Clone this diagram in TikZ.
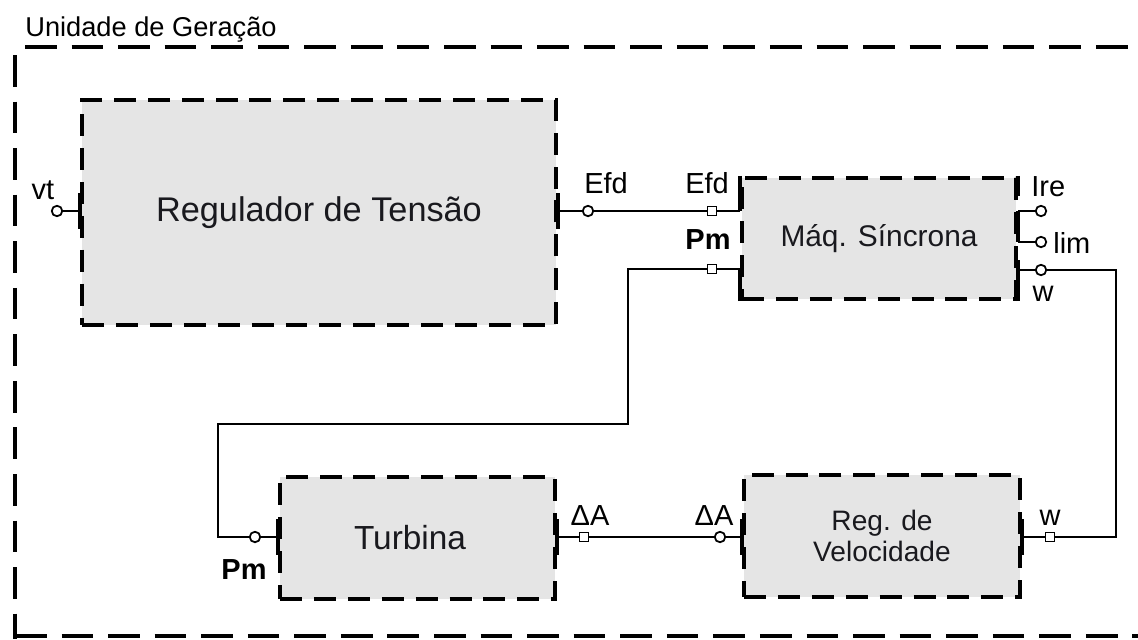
\documentclass[tikz,border=0pt]{standalone}
\usepackage{fontspec}
\setmainfont{Liberation Sans}
\definecolor{boxfill}{RGB}{229,229,229}
\definecolor{txt}{RGB}{25,25,30}
\begin{document}
\begin{tikzpicture}[x=0.02cm,y=-0.02cm,
  blk/.style={draw, fill=boxfill, line width=2.3pt, dash pattern=on 12.5pt off 6.8pt, inner sep=0pt, text=txt},
  outer/.style={line width=2.4pt, dash pattern=on 18pt off 8.5pt},
  wire/.style={line width=0.6pt},
  pbar/.style={line width=2.3pt},
  pcirc/.style={circle, draw, fill=white, line width=1pt, minimum size=0.21cm, inner sep=0pt},
  psq/.style={rectangle, draw, fill=white, line width=1pt, minimum size=0.18cm, inner sep=0pt},
  lbl/.style={font=\fontsize{16.5}{18}\selectfont, inner sep=0pt},
  lblb/.style={font=\fontsize{16.5}{18}\selectfont\bfseries, inner sep=0pt}]
\useasboundingbox (0,0) rectangle (1138,639);
% outer dashed frame
\node[anchor=base west, font=\fontsize{15.5}{17}\selectfont, inner sep=0pt] (title) at (25,36) {Unidade de Geração};
\coordinate (oTL) at (25,47);
\coordinate (oTR) at (1150,47);
\coordinate (oLT) at (15,55);
\coordinate (oLB) at (15,639);
\coordinate (oBL) at (15,636);
\coordinate (oBR) at (1150,636);
\draw[outer] (oTL) -- (oTR);
\draw[outer] (oLT) -- (oLB);
\draw[outer] (oBL) -- (oBR);
% blocks
\node[blk, minimum width=9.48cm, minimum height=4.5cm, font=\fontsize{19.5}{22}\selectfont] (reg) at (319,212.5) {Regulador de Tensão};
\node[blk, minimum width=5.48cm, minimum height=2.42cm, font=\fontsize{17}{19}\selectfont] (maq) at (879,238.5) {Máq. Síncrona};
\node[blk, minimum width=5.5cm, minimum height=2.44cm, font=\fontsize{19}{21}\selectfont, text width=5.2cm, align=center] (tur) at (417.5,538) {Turbina\hspace*{0.3cm}};
\node[blk, minimum width=5.52cm, minimum height=2.44cm, font=\fontsize{16}{17.5}\selectfont, align=center] (rv) at (882,536) {Reg. de\\Velocidade};
% ports
\node[pcirc] (regvt) at (57,211) {};
\node[pcirc] (regefd) at (588,211) {};
\node[psq] (maqefd) at (712,211) {};
\node[psq] (maqpm) at (712,269) {};
\node[pcirc] (maqire) at (1041,211) {};
\node[pcirc] (maqlim) at (1041,242) {};
\node[pcirc] (maqw) at (1041,270) {};
\node[pcirc] (turpm) at (255,537) {};
\node[psq] (turda) at (584,537) {};
\node[pcirc] (rvda) at (720,537) {};
\node[psq] (rvw) at (1050,537) {};
% port bars and stubs
\draw[pbar] (reg.west |- regvt) ++(0,-18) -- ++(0,36);
\draw[wire] (regvt) -- (regvt -| reg.west);
\draw[pbar] (reg.east |- regefd) ++(0,-18) -- ++(0,36);
\draw[wire] (regefd) -- (regefd -| reg.east);
\draw[pbar] (maq.north west) -- (maq.west |- maqefd);
\draw[wire] (maqefd) -- (maqefd -| maq.west);
\draw[pbar] (maq.south west) -- (maq.west |- maqpm);
\draw[wire] (maqpm) -- (maqpm -| maq.west);
\draw[pbar] (maq.north east) -- ++(0,20);
\draw[pbar] (maq.east |- maqire) -- (maq.east |- maqlim);
\draw[wire] (maqire) -- (maqire -| maq.east);
\draw[wire] (maqlim) -- (maqlim -| maq.east);
\draw[pbar] (maq.south east) -- ([yshift=0.2cm]maq.east |- maqw);
\draw[wire] (maqw) -- (maqw -| maq.east);
\draw[pbar] (tur.west |- turpm) ++(0,-18) -- ++(0,36);
\draw[wire] (turpm) -- (turpm -| tur.west);
\draw[pbar] (tur.east |- turda) ++(0,-18) -- ++(0,36);
\draw[wire] (turda) -- (turda -| tur.east);
\draw[pbar] (rv.west |- rvda) ++(0,-18) -- ++(0,36);
\draw[wire] (rvda) -- (rvda -| rv.west);
\draw[pbar] (rv.east |- rvw) ++(0,-18) -- ++(0,36);
\draw[wire] (rvw) -- (rvw -| rv.east);
% connectors
\coordinate (bendA) at (218,424);
\coordinate (bendB) at (628,424);
\coordinate (bendC) at (1116,537);
\draw[wire] (regefd) -- (maqefd);
\draw[wire] (turda) -- (rvda);
\draw[wire] (turpm.west) -| (bendA) -- (bendB) |- (maqpm.west);
\draw[wire] (maqw.east) -| (bendC) -- (rvw.east);
% labels
\node[lbl] (lvt) at (43,190) {vt};
\node[lbl] (lefd1) at (606,183) {Efd};
\node[lbl] (lefd2) at (707,183) {Efd};
\node[lblb] (lpm1) at (708,240) {Pm};
\node[lbl, anchor=west] (lire) at (1031,187) {Ire};
\node[lbl, anchor=west] (llim) at (1053,243) {lim};
\node[lbl] (lw1) at (1043,294) {w};
\node[lblb] (lpm2) at (244,570) {Pm};
\node[lbl] (lda1) at (590,516) {ΔA};
\node[lbl] (lda2) at (714,516) {ΔA};
\node[lbl] (lw2) at (1050,518) {w};
\end{tikzpicture}
\end{document}
